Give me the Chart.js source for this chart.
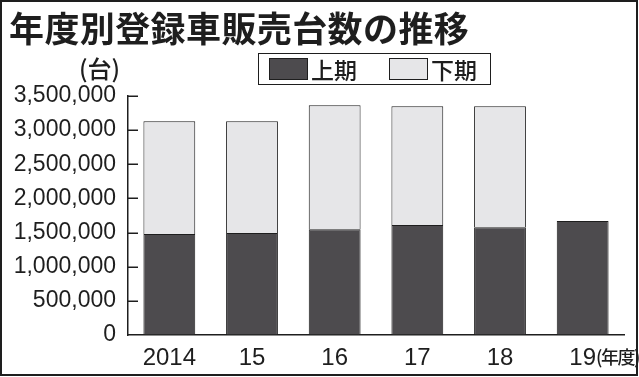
<!DOCTYPE html>
<html lang="ja">
<head>
<meta charset="utf-8">
<script src="https://cdn.jsdelivr.net/npm/chart.js@4"></script>
<style>
  body { margin: 0; background: #fff; }
  .wrap { position: relative; width: 639px; height: 377px; background: #fff; }
  .wrap::after {
    content: ""; position: absolute; left: 0; top: 0; width: 638px; height: 376px;
    box-sizing: border-box; border: 2px solid #1e1e1e; pointer-events: none;
  }
  canvas { position: absolute; left: 0; top: 0; }
  .title {
    position: absolute; left: 9px; top: 9px; white-space: nowrap;
    font: 700 35px/35px "Noto Sans CJK JP"; letter-spacing: 0.4px; color: #1e1e1e;
  }
  .unit {
    position: absolute; left: 79px; top: 55px; white-space: nowrap;
    font: 500 24px/26px "Noto Sans CJK JP"; color: #1e1e1e;
  }
  .legend {
    position: absolute; left: 258px; top: 53px; width: 233px; height: 32px;
    box-sizing: border-box; border: 1.5px solid #1e1e1e;
  }
  .legend .item { position: absolute; top: 4px; height: 22px; display: flex; align-items: center; }
  .legend .box { width: 39px; height: 22px; box-sizing: border-box; border: 1px solid #1e1e1e; }
  .legend .txt { margin-left: 3px; font: 500 23px/24px "Noto Sans CJK JP"; color: #1e1e1e; }
</style>
</head>
<body>
<div class="wrap">
  <canvas id="salesChart" width="639" height="377"></canvas>
  <div class="title">年度別登録車販売台数の推移</div>
  <div class="unit">(台)</div>
  <div class="legend" id="legend"></div>
</div>
<script>
const years = ["2014", "15", "16", "17", "18", "19"];
const firstHalf = [1479000, 1494000, 1548000, 1611000, 1577000, 1669000];
const secondHalf = [1650000, 1635000, 1816000, 1738000, 1772000, null];
const seriesNames = ["上期", "下期"];
const seriesColors = ["#4d4b4e", "#e6e6e8"];

const ink = "#1e1e1e";
const xFont = { family: "'Liberation Sans', Arial", size: 24 };

// short tick marks pointing into the plot, like the print original
const innerTicks = {
  id: "innerTicks",
  afterDatasetsDraw(chart) {
    const { ctx, chartArea, scales } = chart;
    ctx.save();
    ctx.strokeStyle = ink;
    ctx.lineWidth = 1.5;
    scales.y.ticks.forEach(t => {
      if (t.value === 0) return;
      const py = Math.round(scales.y.getPixelForValue(t.value)) + 0.25;
      ctx.beginPath();
      ctx.moveTo(chartArea.left, py);
      ctx.lineTo(chartArea.left + 10, py);
      ctx.stroke();
    });
    ctx.restore();
  }
};

// "(年度)" after the last year label
const yearUnit = {
  id: "yearUnit",
  afterDraw(chart) {
    const { ctx, chartArea, scales } = chart;
    const last = years.length - 1;
    ctx.save();
    ctx.font = xFont.size + "px " + xFont.family;
    const w = ctx.measureText(years[last]).width;
    const px = scales.x.getPixelForValue(last) + w / 2;
    ctx.font = "500 18px 'Noto Sans CJK JP'";
    ctx.letterSpacing = "-1.5px";
    ctx.fillStyle = ink;
    ctx.textBaseline = "alphabetic";
    ctx.fillText("(年度)", px, chartArea.bottom + 29);
    ctx.restore();
  }
};

new Chart(document.getElementById("salesChart"), {
  type: "bar",
  data: {
    labels: years,
    datasets: [
      {
        label: seriesNames[0],
        data: firstHalf,
        backgroundColor: seriesColors[0],
        borderColor: ink,
        borderWidth: 1
      },
      {
        label: seriesNames[1],
        data: secondHalf,
        backgroundColor: seriesColors[1],
        borderColor: ink,
        borderWidth: 1
      }
    ]
  },
  options: {
    responsive: false,
    animation: false,
    categoryPercentage: 1,
    barPercentage: 0.627,
    layout: { padding: { top: 96, right: 15, bottom: 0, left: 0 } },
    plugins: {
      legend: { display: false },
      tooltip: { enabled: false }
    },
    scales: {
      x: {
        stacked: true,
        grid: { drawOnChartArea: false, drawTicks: false },
        border: { display: true, color: ink, width: 1.5 },
        ticks: {
          color: ink,
          padding: 9,
          maxRotation: 0,
          autoSkip: false,
          font: xFont
        },
        afterFit(scale) { scale.height = 42; }
      },
      y: {
        stacked: true,
        min: 0,
        max: 3500000,
        grid: { drawOnChartArea: false, drawTicks: false },
        border: { display: true, color: ink, width: 1.5 },
        ticks: {
          stepSize: 500000,
          color: ink,
          padding: 12,
          font: { family: "'Liberation Sans', Arial", size: 23 },
          callback: v => v.toLocaleString("en-US")
        },
        afterFit(scale) { scale.width = 128; }
      }
    }
  },
  plugins: [innerTicks, yearUnit]
});

// legend built from the series names and colours
const legend = document.getElementById("legend");
const legendLeft = [10, 130];
seriesNames.forEach((name, i) => {
  const item = document.createElement("div");
  item.className = "item";
  item.style.left = legendLeft[i] + "px";
  item.innerHTML = '<span class="box" style="background:' + seriesColors[i] + '"></span><span class="txt">' + name + "</span>";
  legend.appendChild(item);
});
</script>
</body>
</html>
